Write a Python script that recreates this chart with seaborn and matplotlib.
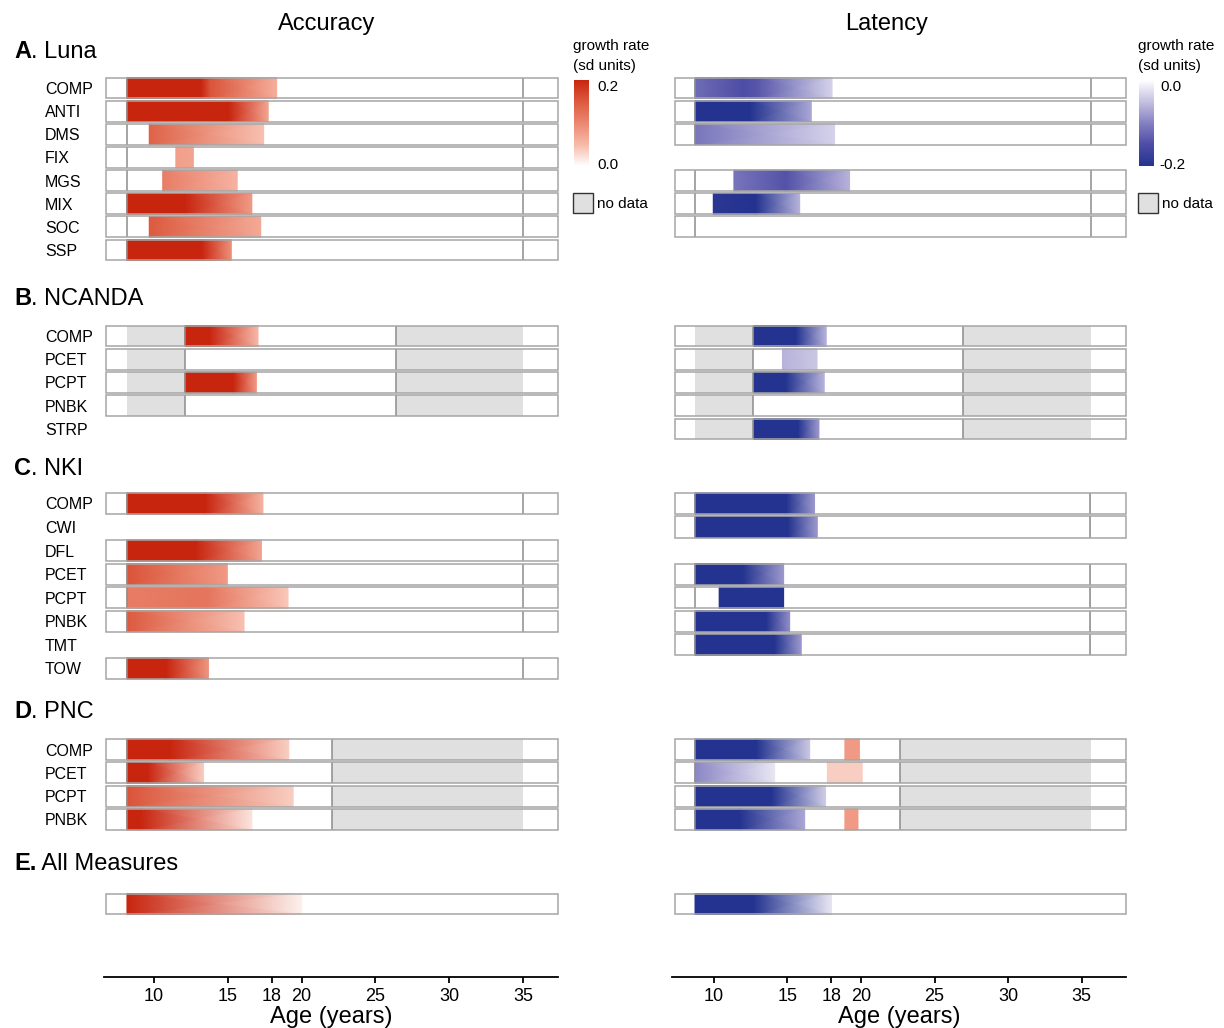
import numpy as np
import matplotlib
matplotlib.use("Agg")
import matplotlib.pyplot as plt
from matplotlib.patches import Rectangle
from matplotlib.colors import Normalize
from matplotlib.cm import ScalarMappable
import seaborn as sns

sns.set_theme(style="white")
plt.rcParams["font.family"] = ["Liberation Sans", "DejaVu Sans"]
plt.rcParams["text.color"] = "black"
plt.rcParams["xtick.color"] = "black"
plt.rcParams["ytick.color"] = "black"
plt.rcParams["axes.labelcolor"] = "black"

# ------------------------------------------------------------------ data
section_names = ["Luna", "NCANDA", "NKI", "PNC", "All Measures"]
section_letters = ["A", "B", "C", "D", "E"]

luna_tasks = ["COMP", "ANTI", "DMS", "FIX", "MGS", "MIX", "SOC", "SSP"]
ncanda_tasks = ["COMP", "PCET", "PCPT", "PNBK", "STRP"]
nki_tasks = ["COMP", "CWI", "DFL", "PCET", "PCPT", "PNBK", "TMT", "TOW"]
pnc_tasks = ["COMP", "PCET", "PCPT", "PNBK"]
all_tasks = [""]

# which task rows exist for each outcome
luna_acc_rows = ["COMP", "ANTI", "DMS", "FIX", "MGS", "MIX", "SOC", "SSP"]
luna_lat_rows = ["COMP", "ANTI", "DMS", "MGS", "MIX", "SOC"]
ncanda_acc_rows = ["COMP", "PCET", "PCPT", "PNBK"]
ncanda_lat_rows = ["COMP", "PCET", "PCPT", "PNBK", "STRP"]
nki_acc_rows = ["COMP", "DFL", "PCET", "PCPT", "PNBK", "TOW"]
nki_lat_rows = ["COMP", "CWI", "PCET", "PCPT", "PNBK", "TMT"]
pnc_acc_rows = ["COMP", "PCET", "PCPT", "PNBK"]
pnc_lat_rows = ["COMP", "PCET", "PCPT", "PNBK"]
all_acc_rows = [""]
all_lat_rows = [""]

# overall sampled age span and per-study age ranges (years)
acc_span = (8.17, 35.0)
lat_span = (8.71, 35.61)
acc_study_ranges = [(8.17, 35.0), (12.1, 26.4), (8.17, 35.0), (8.17, 22.07), None]
lat_study_ranges = [(8.71, 35.61), (12.66, 26.94), (8.71, 35.52), (8.71, 22.64), None]

# significant growth-rate segments: task -> list of (ages, growth rates in sd units)
luna_acc = {
    "COMP": [([8.17, 13.2, 13.8, 18.31], [0.22, 0.2, 0.155, 0.06])],
    "ANTI": [([8.17, 15.08, 17.74], [0.22, 0.2, 0.07])],
    "DMS": [([9.68, 17.43], [0.14, 0.045])],
    "FIX": [([11.48, 12.67], [0.075, 0.07])],
    "MGS": [([10.59, 15.64], [0.11, 0.055])],
    "MIX": [([8.17, 12.1, 16.63], [0.22, 0.2, 0.08])],
    "SOC": [([9.68, 17.23], [0.15, 0.065])],
    "SSP": [([8.17, 13.25, 15.24], [0.22, 0.2, 0.09])],
}
luna_lat = {
    "COMP": [([8.71, 11.97, 13.0, 18.02], [-0.12, -0.15, -0.14, -0.035])],
    "ANTI": [([8.71, 12.45, 16.61], [-0.22, -0.2, -0.07])],
    "DMS": [([8.71, 18.19], [-0.11, -0.035])],
    "MGS": [([11.35, 14.89, 19.21], [-0.11, -0.145, -0.06])],
    "MIX": [([9.95, 12.85, 15.82], [-0.19, -0.2, -0.06])],
}
ncanda_acc = {
    "COMP": [([12.11, 13.77, 17.05], [0.22, 0.2, 0.05])],
    "PCPT": [([12.11, 15.39, 16.94], [0.22, 0.2, 0.08])],
}
ncanda_lat = {
    "COMP": [([12.70, 15.57, 17.63], [-0.22, -0.2, -0.06])],
    "PCET": [([14.65, 17.0], [-0.06, -0.045])],
    "PCPT": [([12.70, 14.89, 17.49], [-0.22, -0.2, -0.06])],
    "STRP": [([12.70, 15.71, 17.13], [-0.22, -0.2, -0.08])],
}
nki_acc = {
    "COMP": [([8.17, 13.49, 17.38], [0.22, 0.2, 0.055])],
    "DFL": [([8.17, 12.85, 17.28], [0.22, 0.2, 0.07])],
    "PCET": [([8.17, 14.97], [0.155, 0.08])],
    "PCPT": [([8.17, 13.59, 19.08], [0.11, 0.12, 0.04])],
    "PNBK": [([8.17, 16.10], [0.15, 0.045])],
    "TOW": [([8.17, 10.85, 13.69], [0.22, 0.2, 0.085])],
}
nki_lat = {
    "COMP": [([8.71, 14.92, 16.83], [-0.22, -0.2, -0.08])],
    "CWI": [([8.71, 15.03, 17.02], [-0.22, -0.2, -0.08])],
    "PCET": [([8.71, 11.97, 14.73], [-0.22, -0.2, -0.08])],
    "PCPT": [([10.35, 14.73], [-0.22, -0.2])],
    "PNBK": [([8.71, 13.56, 15.14], [-0.22, -0.2, -0.09])],
    "TMT": [([8.71, 14.12, 15.93], [-0.22, -0.2, -0.08])],
}
pnc_acc = {
    "COMP": [([8.17, 11.10, 19.13], [0.22, 0.2, 0.035])],
    "PCET": [([8.17, 9.59, 13.36], [0.22, 0.2, 0.035])],
    "PCPT": [([8.17, 19.43], [0.155, 0.035])],
    "PNBK": [([8.17, 9.10, 16.63], [0.22, 0.2, 0.02])],
}
pnc_lat = {
    "COMP": [([8.71, 12.88, 16.50], [-0.22, -0.2, -0.045]), ([18.89, 19.88], [0.08, 0.08])],
    "PCET": [([8.71, 14.12], [-0.095, -0.02]), ([17.70, 20.07], [0.035, 0.035])],
    "PCPT": [([8.71, 13.90, 17.58], [-0.22, -0.2, -0.04])],
    "PNBK": [([8.71, 11.75, 16.16], [-0.22, -0.2, -0.07]), ([18.89, 19.78], [0.08, 0.08])],
}
all_acc = {"": [([8.17, 20.01], [0.2, 0.01])]}
all_lat = {"": [([8.71, 12.68, 17.98], [-0.22, -0.2, -0.02])]}

age_ticks = [10, 15, 18, 20, 25, 30, 35]
acc_cbar_labels = ["0.2", "0.0"]
lat_cbar_labels = ["0.0", "-0.2"]

# ------------------------------------------------------------------ styling / layout
W, H = 1224, 1028
fig = plt.figure(figsize=(W / 100, H / 100), dpi=100)
fig.patch.set_facecolor("white")


def fx(px):
    return px / W


def fy(py):
    return 1 - py / H


blue_stops = ["#23338F", "#4E4DA5", "#8580C2", "#C4C0E1", "#FFFFFF"]
red_stops = ["#FFFFFF", "#F7B9A8", "#EB8770", "#DC5A3F", "#C8250F"]
div_cmap = sns.blend_palette(blue_stops + red_stops[1:], n_colors=256, as_cmap=True)
red_cmap = sns.blend_palette(red_stops, n_colors=256, as_cmap=True)
blue_cmap = sns.blend_palette(blue_stops, n_colors=256, as_cmap=True)
div_norm = Normalize(-0.2, 0.2, clip=True)

NODATA = "#E0E0E0"
BOX_EDGE = "#A6A6A6"
VLINE = "#8C8C8C"
BOX_H = 0.9

left_px = (106, 558)
right_px = (675, 1126)
left_xlim = (6.75, 37.37)
right_xlim = (7.35, 37.99)

# (first row centre px, row spacing px) for each section
sec_rows_px = [(88, 23.15), (336, 23.25), (503.5, 23.55), (749.5, 23.3), (904, 23.3)]
sec_title_px = [52, 298, 469, 711, 863]

sec_tasks = [luna_tasks, ncanda_tasks, nki_tasks, pnc_tasks, all_tasks]
acc_rows = [luna_acc_rows, ncanda_acc_rows, nki_acc_rows, pnc_acc_rows, all_acc_rows]
lat_rows = [luna_lat_rows, ncanda_lat_rows, nki_lat_rows, pnc_lat_rows, all_lat_rows]
acc_bars = [luna_acc, ncanda_acc, nki_acc, pnc_acc, all_acc]
lat_bars = [luna_lat, ncanda_lat, nki_lat, pnc_lat, all_lat]


def draw_panel(ax, tasks, present, bars, study_range, span, xlim):
    n = len(tasks)
    ax.set_xlim(*xlim)
    ax.set_ylim(n - 0.5, -0.5)
    for sp in ax.spines.values():
        sp.set_visible(False)
    ax.set_xticks([])
    ax.patch.set_alpha(0)
    for i, t in enumerate(tasks):
        if t not in present:
            continue
        y0, y1 = i - BOX_H / 2, i + BOX_H / 2
        ax.add_patch(Rectangle((xlim[0], y0), xlim[1] - xlim[0], BOX_H,
                               facecolor="white", edgecolor="none", zorder=1))
        if study_range is not None:
            lo, hi = study_range
            if lo > span[0] + 0.05:
                ax.add_patch(Rectangle((span[0], y0), lo - span[0], BOX_H,
                                       facecolor=NODATA, edgecolor="none", zorder=2))
            if hi < span[1] - 0.05:
                ax.add_patch(Rectangle((hi, y0), span[1] - hi, BOX_H,
                                       facecolor=NODATA, edgecolor="none", zorder=2))
        for ages, rates in bars.get(t, []):
            X = np.array([ages, ages], dtype=float)
            Y = np.array([[y0] * len(ages), [y1] * len(ages)], dtype=float)
            C = np.array([rates, rates], dtype=float)
            ax.pcolormesh(X, Y, C, shading="gouraud", cmap=div_cmap, norm=div_norm,
                          zorder=3, antialiased=False)
        if study_range is not None:
            ax.vlines(list(study_range), y0, y1, color=VLINE, lw=1.1, zorder=4)
        ax.add_patch(Rectangle((xlim[0], y0), xlim[1] - xlim[0], BOX_H, fill=False,
                               edgecolor=BOX_EDGE, lw=1.1, zorder=5, clip_on=False))


for s in range(5):
    c0, sp = sec_rows_px[s]
    n = len(sec_tasks[s])
    top = c0 - sp / 2
    height = n * sp
    for side in range(2):
        pxr = left_px if side == 0 else right_px
        ax = fig.add_axes([fx(pxr[0]), fy(top + height), fx(pxr[1] - pxr[0]), height / H])
        if side == 0:
            draw_panel(ax, sec_tasks[s], acc_rows[s], acc_bars[s], acc_study_ranges[s],
                       acc_span, left_xlim)
            ax.set_yticks(range(n))
            ax.set_yticklabels(sec_tasks[s], ha="left", fontsize=11.5, color="black")
            ax.tick_params(axis="y", length=0, pad=(pxr[0] - 45) * 0.72)
        else:
            draw_panel(ax, sec_tasks[s], lat_rows[s], lat_bars[s], lat_study_ranges[s],
                       lat_span, right_xlim)
            ax.set_yticks([])
    # section title: bold letter + name
    bold_part = section_letters[s] + ("." if s == 4 else "")
    rest = (" " if s == 4 else ". ") + section_names[s]
    t1 = fig.text(fx(14), fy(sec_title_px[s]), bold_part, fontsize=17, fontweight="bold",
                  ha="left", va="center", color="black")
    plt.annotate(rest, xy=(1, 0), xycoords=t1, ha="left", va="bottom", fontsize=17,
                 annotation_clip=False, color="black")

# column titles
fig.text(fx(327), fy(24), "Accuracy", fontsize=17, ha="center", va="center")
fig.text(fx(887), fy(24), "Latency", fontsize=17, ha="center", va="center")

# age axes
for pxr, xl, cx in [((104, 558), (6.61, 37.37), 331), ((672, 1126), (7.17, 38.0), 899)]:
    bax = fig.add_axes([fx(pxr[0]), fy(977), fx(pxr[1] - pxr[0]), 0.0005])
    bax.set_xlim(*xl)
    for k in ["top", "left", "right"]:
        bax.spines[k].set_visible(False)
    bax.spines["bottom"].set_color("black")
    bax.spines["bottom"].set_linewidth(1.3)
    bax.set_yticks([])
    bax.set_xticks(age_ticks)
    bax.set_xticklabels([str(a) for a in age_ticks], fontsize=13, color="black")
    bax.tick_params(axis="x", direction="out", length=4, width=1.3, color="black",
                    pad=4, bottom=True)
    bax.patch.set_alpha(0)
    fig.text(fx(cx), fy(1017), "Age (years)", fontsize=17, ha="center", va="center")

# legends
for lx, cmap, vmin, vmax, labels, lab_x in [
        (573, red_cmap, 0.0, 0.2, acc_cbar_labels, 597),
        (1138, blue_cmap, -0.2, 0.0, lat_cbar_labels, 1160)]:
    fig.text(fx(lx), fy(46), "growth rate", fontsize=11, ha="left", va="center")
    fig.text(fx(lx), fy(66), "(sd units)", fontsize=11, ha="left", va="center")
    cax = fig.add_axes([fx(lx + 1), fy(166), fx(15), 86 / H])
    cb = fig.colorbar(ScalarMappable(norm=Normalize(vmin, vmax), cmap=cmap), cax=cax)
    cb.outline.set_visible(False)
    cb.set_ticks([])
    fig.text(fx(lab_x), fy(87), labels[0], fontsize=11, ha="left", va="center")
    fig.text(fx(lab_x - (1 if labels[1].startswith("-") else 0)), fy(165), labels[1],
             fontsize=11, ha="left", va="center")
    fig.patches.append(Rectangle((fx(lx), fy(213)), fx(20), 20 / H, transform=fig.transFigure,
                                 facecolor=NODATA, edgecolor="#333333", lw=1.0, figure=fig))
    fig.text(fx(lx + 24), fy(204), "no data", fontsize=11, ha="left", va="center")

fig.savefig("out.png", dpi=100, facecolor="white")
